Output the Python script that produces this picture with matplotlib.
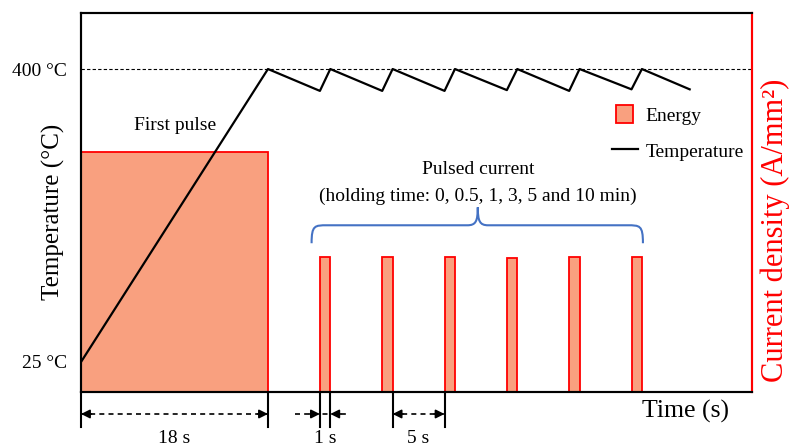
import matplotlib.pyplot as plt
from matplotlib.patches import Patch, PathPatch, Rectangle
from matplotlib.lines import Line2D
from matplotlib.path import Path
from matplotlib.legend_handler import HandlerPatch

plt.rcParams["font.family"] = ["Liberation Serif", "DejaVu Serif"]

# current pulses (start s, width s, current density a.u.)
pulse_start = [0, 23, 29, 35, 41, 47, 53]
pulse_width = [18, 1, 1, 1, 1, 1, 1]
pulse_height = [63.3, 35.6, 35.6, 35.6, 35.4, 35.6, 35.6]

# temperature profile
temp_time = [0, 18, 23, 24, 29, 30, 35, 36, 41, 42, 47, 48, 53, 54, 58.6]
temp_value = [25, 400, 372, 400, 372, 400, 372, 400, 373, 400, 372, 400, 374, 400, 374]

FILL = "#F9A07F"
EDGE = "#FF0000"
BLUE = "#4472C4"


def square_patch(legend, orig_handle, xdescent, ydescent, width, height, fontsize):
    s = height
    return Rectangle((-xdescent + (width - s) / 2, -ydescent), s, s)


def main() -> None:
    fig = plt.figure(figsize=(7.9, 4.48), dpi=100)
    ax = fig.add_axes([81 / 790, 1 - 392 / 448, 671 / 790, 379 / 448])
    ax2 = ax.twinx()
    ax.set_zorder(ax2.get_zorder() + 1)
    ax.patch.set_visible(False)

    ax2.bar(pulse_start, pulse_height, width=pulse_width, align="edge",
            color=FILL, edgecolor=EDGE, linewidth=1.3)
    ax2.set_ylim(0, 100)
    ax2.set_yticks([])

    ax.plot(temp_time, temp_value, color="black", linewidth=1.6)
    ax.axhline(400, color="black", linestyle=(0, (3, 2)), linewidth=0.8)

    ax.set_xlim(0, 64.6)
    ax.set_ylim(-13.4, 471.7)
    ax.set_xticks([])
    ax.set_yticks([25, 400], ["25 °C", "400 °C"], fontsize=14)
    ax.tick_params(axis="y", length=0, pad=10)

    fig.text(53 / 790, 1 - 212 / 448, "Temperature (°C)", fontsize=18,
             rotation=90, ha="center", va="center")
    fig.text(775 / 790, 1 - 230 / 448, "Current density (A/mm²)", fontsize=22,
             rotation=90, ha="center", va="center", color=EDGE)

    for a in (ax, ax2):
        a.spines["right"].set_color(EDGE)
        a.spines["right"].set_linewidth(1.5)
        for s in ("left", "bottom", "top"):
            a.spines[s].set_linewidth(1.5)

    fig.text(686 / 790, 1 - 411 / 448, "Time (s)", fontsize=18.5,
             ha="center", va="center")

    ax.text(9.05, 328, "First pulse", fontsize=14, ha="center", va="center")
    ax.text(38.2, 271, "Pulsed current", fontsize=14, ha="center", va="center")
    ax.text(38.2, 237, "(holding time: 0, 0.5, 1, 3, 5 and 10 min)", fontsize=14,
            ha="center", va="center")

    # curly brace over pulsed current
    x0, xm, x1 = 22.2, 38.2, 54.1
    yb, yh, yt = 177, 200, 223
    verts = [
        (x0, yb), (x0, yh), (x0 + 0.3, yh), (x0 + 1.5, yh),
        (xm - 1.0, yh), (xm - 0.2, yh), (xm, yh + 5), (xm, yt),
        (xm, yh + 5), (xm + 0.2, yh), (xm + 1.0, yh),
        (x1 - 1.5, yh), (x1 - 0.3, yh), (x1, yh), (x1, yb),
    ]
    codes = [Path.MOVETO, Path.CURVE4, Path.CURVE4, Path.CURVE4,
             Path.LINETO, Path.CURVE4, Path.CURVE4, Path.CURVE4,
             Path.CURVE4, Path.CURVE4, Path.CURVE4,
             Path.LINETO, Path.CURVE4, Path.CURVE4, Path.CURVE4]
    ax.add_patch(PathPatch(Path(verts, codes), facecolor="none", edgecolor=BLUE,
                           linewidth=1.5))

    # dimension marks under the time axis
    tr = ax.get_xaxis_transform()
    for xv in [0, 18, 23, 24, 30, 35]:
        ax.plot([xv, xv], [0, -0.093], color="black", linewidth=1.5,
                transform=tr, clip_on=False)
    ya = -0.058
    dashes = [(0, 18), (20.6, 25.9), (30, 35)]
    for xa, xb in dashes:
        ax.plot([xa, xb], [ya, ya], color="black", linestyle=(0, (3, 2.5)),
                linewidth=1.2, transform=tr, clip_on=False)
    heads = [(0, 1.0), (18, -1.0), (23, -1.0), (24, 1.0), (30, 1.0), (35, -1.0)]
    for xh, dx in heads:
        ax.annotate("", xy=(xh, ya), xytext=(xh + dx, ya), xycoords=tr,
                    textcoords=tr,
                    arrowprops=dict(arrowstyle="-|>", color="black",
                                    mutation_scale=13, lw=1.2,
                                    shrinkA=0, shrinkB=0))
    yl = -0.122
    ax.text(9, yl, "18 s", transform=tr, fontsize=14, ha="center", va="center")
    ax.text(23.5, yl, "1 s", transform=tr, fontsize=14, ha="center", va="center")
    ax.text(32.5, yl, "5 s", transform=tr, fontsize=14, ha="center", va="center")

    handles = [Patch(facecolor=FILL, edgecolor=EDGE, linewidth=1.3, label="Energy"),
               Line2D([], [], color="black", linewidth=1.6, label="Temperature")]
    fig.legend(handles=handles, loc="upper left", bbox_to_anchor=(594 / 790, 1 - 88 / 448),
               frameon=False, fontsize=14, handlelength=1.35, handleheight=1.0,
               labelspacing=0.85, handletextpad=0.4,
               handler_map={Patch: HandlerPatch(patch_func=square_patch)})

    fig.savefig("out.png", dpi=100)


if __name__ == "__main__":
    main()
